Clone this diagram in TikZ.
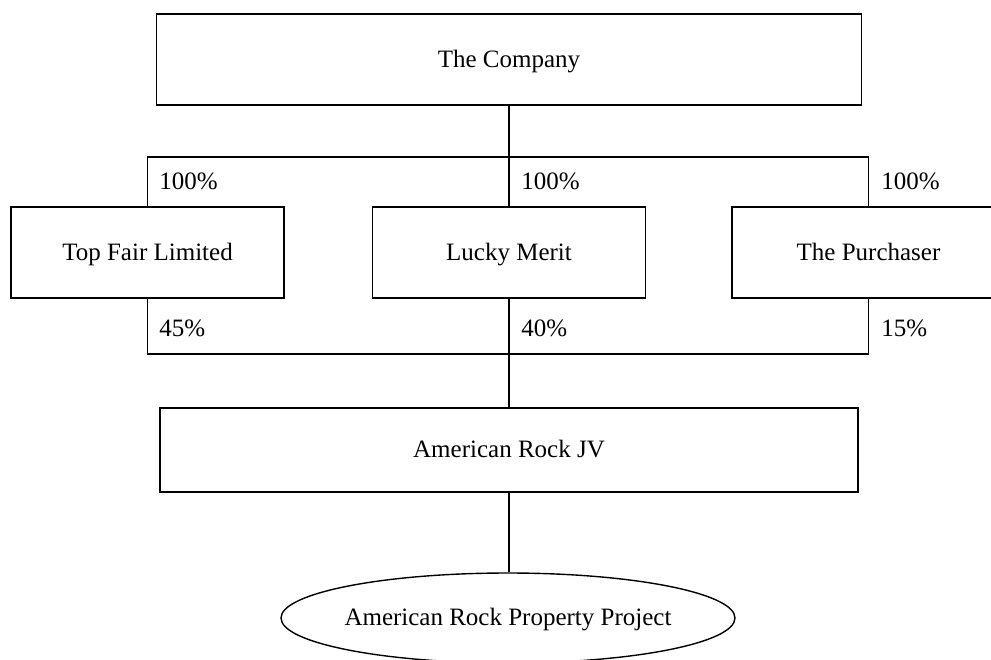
\documentclass[tikz,border=0pt]{standalone}
\usepackage{fontspec}
\setmainfont{Liberation Serif}
\usetikzlibrary{shapes.geometric}
\begin{document}
\begin{tikzpicture}[x=0.5pt,y=-0.5pt,
  every node/.style={font=\fontsize{12.5}{15}\selectfont},
  box/.style={draw, line width=0.7pt, rectangle, inner sep=0pt, text height=0.96em, text depth=0.2em},
  oval/.style={draw, line width=0.7pt, ellipse, inner sep=0pt, minimum width=227pt, minimum height=45pt, text height=0.96em, text depth=0.2em},
  pct/.style={anchor=west, inner sep=0pt},
  conn/.style={line width=0.7pt}]
\useasboundingbox (0,0) rectangle (991,659);
\clip (0,0) rectangle (991,659);
\node[box, minimum width=352.5pt, minimum height=45.5pt] (company) at (509,59.5) {The Company};
\node[box, minimum width=136.5pt, minimum height=45.5pt] (topfair) at (147.5,252.5) {Top Fair Limited};
\node[box, minimum width=136.5pt, minimum height=45.5pt] (lucky) at (509,252.5) {Lucky Merit};
\node[box, minimum width=136.5pt, minimum height=45.5pt] (purch) at (868.5,252.5) {The Purchaser};
\node[box, minimum width=349pt, minimum height=42pt] (jv) at (509,450) {American Rock JV};
\node[oval] (proj) at (508,618) {\makebox[0pt]{American Rock Property Project}};
\coordinate (tb) at (509,157);
\coordinate (bb) at (509,354);
\draw[conn] (company.south) -- (lucky.north);
\draw[conn] (topfair.north) -- (topfair.north |- tb) -- (purch.north |- tb) -- (purch.north);
\draw[conn] (lucky.south) -- (jv.north);
\draw[conn] (topfair.south) -- (topfair.south |- bb) -- (purch.south |- bb) -- (purch.south);
\draw[conn] (jv.south) -- (jv.south |- proj.north);
\node[pct] (p1) at (159,181) {100\%};
\node[pct] (p2) at (521,181) {100\%};
\node[pct] (p3) at (881,181) {100\%};
\node[pct] (p4) at (159,328) {45\%};
\node[pct] (p5) at (521,328) {40\%};
\node[pct] (p6) at (881,328) {15\%};
\end{tikzpicture}
\end{document}
